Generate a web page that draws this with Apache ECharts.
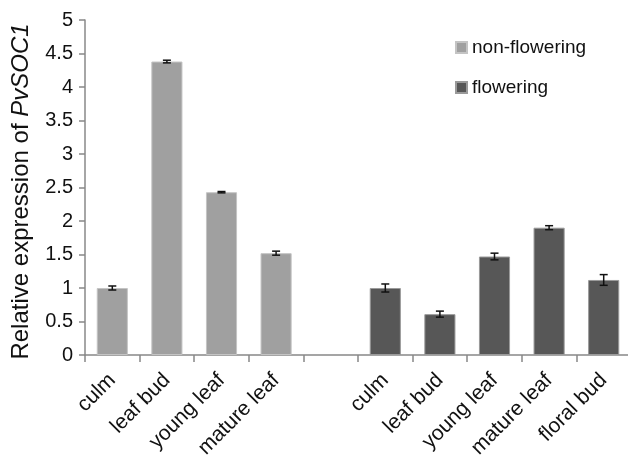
<!DOCTYPE html>
<html><head><meta charset="utf-8">
<script src="https://cdn.jsdelivr.net/npm/echarts@6/dist/echarts.min.js"></script>
<style>html,body{margin:0;padding:0;background:#fff}#c{width:628px;height:456px}</style>
</head><body><div id="c"></div>
<script>
var categories = ['culm','leaf bud','young leaf','mature leaf','','culm','leaf bud','young leaf','mature leaf','floral bud'];
var nonFlowering = [1.00, 4.38, 2.43, 1.52, null, null, null, null, null, null];
var nonFlowErr   = [0.03, 0.02, 0.01, 0.03, null, null, null, null, null, null];
var flowering    = [null, null, null, null, null, 1.00, 0.61, 1.47, 1.90, 1.12];
var flowErr      = [null, null, null, null, null, 0.06, 0.045, 0.05, 0.03, 0.08];
var yTicks = [0, 0.5, 1, 1.5, 2, 2.5, 3, 3.5, 4, 4.5, 5];

function errData(vals, errs){
  var out = [];
  for (var i = 0; i < vals.length; i++) {
    if (vals[i] != null) out.push([i, vals[i] - errs[i], vals[i] + errs[i]]);
  }
  return out;
}
function renderErr(params, api){
  var x = api.value(0), lo = api.value(1), hi = api.value(2);
  var pLo = api.coord([x, lo]), pHi = api.coord([x, hi]);
  var hw = 4;
  var st = {stroke:'#111', lineWidth:1.5};
  return {type:'group', children:[
    {type:'line', shape:{x1:pLo[0],y1:pLo[1],x2:pHi[0],y2:pHi[1]}, style:st},
    {type:'line', shape:{x1:pLo[0]-hw,y1:pLo[1],x2:pLo[0]+hw,y2:pLo[1]}, style:st},
    {type:'line', shape:{x1:pHi[0]-hw,y1:pHi[1],x2:pHi[0]+hw,y2:pHi[1]}, style:st}
  ]};
}
var FONT = 'Liberation Sans, Arial, sans-serif';
var chart = echarts.init(document.getElementById('c'));
chart.setOption({
  animation:false,
  backgroundColor:'#fff',
  grid:{left:85, top:20, height:335, width:546, containLabel:false, outerBoundsMode:'none'},
  legend:{
    orient:'vertical', left:450, top:33, itemWidth:11, itemHeight:11, itemGap:21,
    icon:'rect',
    textStyle:{fontFamily:FONT, fontSize:19, color:'#111'},
    data:['non-flowering','flowering']
  },
  xAxis:{
    type:'category', data:categories,
    axisLine:{lineStyle:{color:'#888', width:1.5}},
    axisTick:{show:true, length:7, lineStyle:{color:'#888', width:1.5}},
    axisLabel:{rotate:45, interval:0, margin:22, fontFamily:FONT, fontSize:21, color:'#111'}
  },
  yAxis:{
    type:'value', min:0, max:5, interval:0.5,
    name:'{n|Relative expression of }{i|PvSOC1}',
    nameLocation:'middle', nameGap:52,
    nameTextStyle:{padding:[0,8,0,0], rich:{
      n:{fontFamily:FONT, fontSize:24, color:'#111'},
      i:{fontFamily:FONT, fontSize:24, color:'#111', fontStyle:'italic'}
    }},
    splitLine:{show:false},
    axisLine:{show:true, lineStyle:{color:'#888', width:1.5}},
    axisTick:{show:true, length:6, lineStyle:{color:'#888', width:1.5}},
    axisLabel:{margin:12, fontFamily:FONT, fontSize:20, color:'#111',
      formatter:function(v){ return String(v); }}
  },
  series:[
    {name:'non-flowering', type:'bar', data:nonFlowering, barWidth:'57%', barGap:'-100%',
     itemStyle:{color:'#a0a0a0', borderColor:'#c4c4c4', borderWidth:1}},
    {name:'flowering', type:'bar', data:flowering, barWidth:'57%', barGap:'-100%',
     itemStyle:{color:'#575757', borderColor:'#9a9a9a', borderWidth:1}},
    {type:'custom', renderItem:renderErr, data:errData(nonFlowering, nonFlowErr), z:10,
     encode:{x:0, y:[1,2]}},
    {type:'custom', renderItem:renderErr, data:errData(flowering, flowErr), z:10,
     encode:{x:0, y:[1,2]}}
  ]
});
</script></body></html>
